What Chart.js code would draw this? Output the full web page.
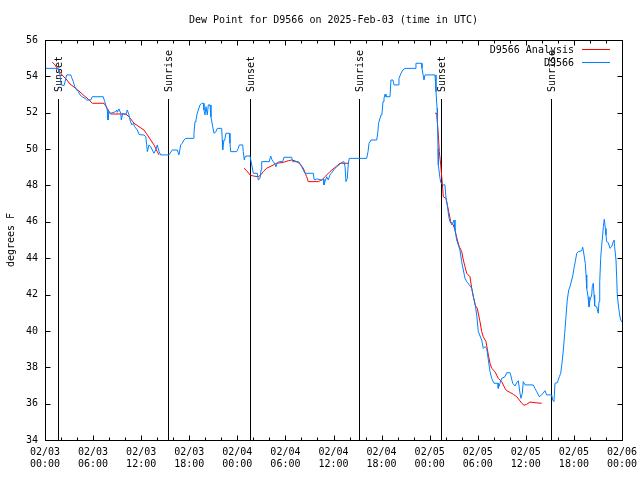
<!DOCTYPE html>
<html><head><meta charset="utf-8">
<script src="https://cdn.jsdelivr.net/npm/chart.js@4/dist/chart.umd.min.js"></script>
<style>html,body{margin:0;padding:0;background:#fff;} canvas{display:block;}</style>
</head><body>
<canvas id="c" width="640" height="480"></canvas>
<script>
const FONT = '"DejaVu Sans Mono", "Liberation Mono", monospace';

// hours since 2025-02-03 00:00 UTC
const blueTimes = [0.00,1.66,1.87,2.03,2.37,2.50,2.71,3.21,3.33,3.53,
3.71,3.96,4.16,4.37,4.65,4.99,5.20,5.70,5.90,6.74,
7.27,7.45,7.77,7.86,7.99,8.20,8.82,8.95,9.02,9.23,
9.45,9.52,9.70,10.07,10.27,10.48,10.61,10.82,11.02,11.19,
11.52,11.73,12.02,12.35,12.57,12.69,12.77,12.98,13.19,13.39,
13.60,13.81,14.01,14.23,14.44,15.47,15.88,16.51,16.72,16.93,
17.13,17.34,17.56,18.50,18.59,18.72,18.84,19.00,19.13,19.34,
19.55,19.75,19.84,19.96,20.09,20.25,20.38,20.59,20.71,20.93,
21.09,21.34,21.50,22.05,22.12,22.17,22.25,22.34,22.46,22.59,
23.00,23.08,23.17,23.92,24.12,24.25,24.67,24.74,24.87,24.96,
25.08,25.58,25.92,25.99,26.49,26.62,26.83,26.96,27.04,27.99,
28.16,28.29,28.49,28.70,28.83,28.99,29.24,29.66,29.82,30.78,
30.91,31.61,31.82,32.03,32.23,32.44,33.48,33.57,33.69,33.90,
34.53,34.73,34.81,34.94,35.15,35.35,35.56,35.78,36.10,36.40,
36.81,37.02,37.31,37.44,37.56,37.72,37.85,37.97,40.14,40.31,
40.43,40.68,41.39,41.55,41.62,41.93,42.05,42.18,42.30,42.43,
42.55,43.05,43.17,43.42,43.55,44.05,44.17,44.42,44.67,44.92,
46.17,46.29,47.00,47.04,47.29,47.42,48.67,48.79,48.92,48.98,
49.04,49.08,49.29,49.42,49.66,49.91,50.04,50.20,50.38,50.54,
50.79,51.04,51.16,51.37,51.57,51.78,51.99,52.20,52.41,52.62,
52.95,53.25,53.45,53.66,53.87,54.07,54.49,54.69,54.91,55.12,
55.32,55.53,55.74,56.03,56.53,56.56,56.78,56.99,57.40,57.61,
58.02,58.11,58.36,58.65,58.86,59.06,59.27,59.40,59.56,59.68,
59.90,60.93,61.14,61.36,61.68,61.98,62.39,62.60,63.23,63.35,
63.51,63.64,63.93,64.18,64.35,64.51,64.68,64.85,65.01,65.17,
65.35,65.51,65.72,65.85,66.01,66.17,66.35,66.55,66.97,67.10,
67.26,67.42,67.51,67.60,67.76,67.88,68.01,68.22,68.29,68.42,
68.51,68.59,68.84,69.04,69.13,69.22,69.34,69.47,69.59,69.67,
69.79,69.92,70.00,70.09,70.29,70.50,70.71,70.91,71.00,71.08,
71.25,71.34,71.41,71.59,71.71,71.84,72.00];
const blueValues = [54.44,54.44,54.08,53.53,53.49,53.71,54.08,54.08,53.93,53.71,
53.43,53.25,53.16,52.98,52.88,52.79,52.70,52.70,52.88,52.88,
52.88,52.61,52.15,51.60,52.06,51.97,52.06,52.15,52.02,52.21,
51.97,51.60,51.97,51.88,52.15,51.88,51.60,51.33,51.42,51.23,
51.05,50.81,50.78,50.78,50.68,50.23,49.86,50.23,50.13,49.95,
49.77,49.95,50.23,49.86,49.68,49.68,49.95,49.95,49.68,50.23,
50.32,50.50,50.59,50.59,50.87,51.51,51.60,51.97,52.15,52.43,
52.52,52.52,52.15,51.88,52.33,51.88,52.43,52.43,51.78,51.23,
50.87,50.96,51.14,51.14,50.50,49.95,50.23,50.50,50.59,50.87,
50.87,50.32,49.86,49.86,50.04,50.23,50.23,49.86,49.40,49.58,
49.62,49.62,48.85,48.67,48.67,48.30,48.39,48.85,49.31,49.31,
49.62,49.44,49.31,49.16,49.03,49.25,49.31,49.31,49.55,49.55,
49.31,49.31,49.22,49.03,48.85,48.67,48.67,48.34,48.30,48.36,
48.30,48.34,48.03,48.21,48.48,48.30,48.58,48.70,48.89,49.03,
49.18,49.27,49.31,49.03,48.21,48.39,49.22,49.49,49.49,49.86,
50.32,50.50,50.50,51.00,51.42,51.88,51.97,52.61,52.79,53.02,
52.88,52.88,53.80,53.80,53.53,53.53,53.89,54.17,54.35,54.44,
54.44,54.72,54.72,54.44,53.80,54.08,54.08,53.16,52.25,51.42,
50.04,49.13,48.39,48.12,48.03,48.03,47.29,46.93,46.28,46.01,
45.83,46.10,45.55,45.00,44.73,44.45,43.81,43.35,42.89,42.71,
42.53,42.34,41.88,41.52,40.88,39.96,39.50,39.04,39.13,39.04,
38.40,37.76,37.39,37.12,37.12,36.84,37.12,37.39,37.48,37.70,
37.70,37.58,37.12,36.97,37.15,37.26,36.57,36.29,36.57,37.21,
37.03,37.03,36.84,36.66,36.38,36.48,36.71,36.48,36.48,36.20,
36.11,37.12,37.15,37.48,37.67,38.22,38.95,39.87,40.78,41.70,
42.25,42.43,42.80,43.02,43.44,43.81,44.27,44.36,44.41,44.60,
44.18,43.72,43.08,42.34,41.88,41.33,41.70,41.98,42.43,42.62,
41.98,41.37,41.33,40.97,41.61,42.71,43.99,44.73,45.28,45.73,
46.14,45.64,45.28,44.91,44.85,44.54,44.63,44.91,45.00,44.63,
43.90,42.89,41.98,41.24,40.88,40.60,40.49];

const redTimes = [0.91,1.25,1.50,1.87,2.12,2.62,3.12,3.83,4.37,4.87,
5.37,5.90,7.36,7.77,7.99,8.20,10.07,10.48,11.11,11.73,
12.35,12.77,13.19,13.60,14.01,14.23,
20.00,
24.83,25.17,25.58,25.99,26.62,26.92,27.24,27.66,28.08,28.49,
28.91,29.74,30.36,30.78,31.20,31.73,32.23,32.65,32.86,34.10,
34.53,34.94,35.56,36.40,36.81,37.93,
43.00,
48.67,48.88,48.95,49.08,49.20,49.38,49.50,49.63,49.70,50.04,
50.20,50.38,50.62,50.95,51.16,51.45,51.70,52.00,52.20,52.41,
52.62,53.03,53.25,53.66,53.94,54.28,54.49,54.69,55.03,55.32,
55.53,55.74,56.15,56.56,56.99,57.40,57.61,58.02,58.44,58.86,
59.19,59.49,59.77,60.11,60.52,61.14,61.98];
const redValues = [54.78,54.63,54.46,54.24,54.08,53.86,53.58,53.34,53.14,52.94,
52.76,52.52,52.52,52.25,52.06,51.93,51.93,51.78,51.42,51.23,
51.05,50.78,50.50,50.23,49.86,49.68,
null,
48.95,48.81,48.58,48.52,48.48,48.58,48.76,48.95,49.03,49.13,
49.22,49.27,49.36,49.40,49.35,49.22,48.95,48.48,48.21,48.21,
48.30,48.48,48.76,49.07,49.22,49.22,
null,
51.97,51.97,51.51,50.78,49.86,49.13,48.48,47.84,47.38,47.29,
46.93,46.56,46.01,45.83,45.55,45.00,44.63,44.36,43.90,43.53,
43.17,42.98,42.34,41.43,41.24,40.51,39.96,39.68,39.41,38.68,
38.22,37.94,37.76,37.39,37.21,36.84,36.71,36.62,36.51,36.38,
36.20,36.02,35.91,35.96,36.09,36.05,36.02];

const eventTimes = [1.66, 15.39, 25.62, 39.22, 49.45, 63.18];
const eventLabels = ["Sunset","Sunrise","Sunset","Sunrise","Sunset","Sunrise"];
const eventTop = 52.75;

const xTickDates = ["02/03","02/03","02/03","02/03","02/04","02/04","02/04","02/04","02/05","02/05","02/05","02/05","02/06"];
const xTickTimes = ["00:00","06:00","12:00","18:00","00:00","06:00","12:00","18:00","00:00","06:00","12:00","18:00","00:00"];

const titleText = "Dew Point for D9566 on 2025-Feb-03 (time in UTC)";
const yLabelText = "degrees F";
const seriesNames = ["D9566 Analysis", "D9566"];
const seriesColors = ["#ff0000", "#0080ff"];

const toPts = (t, v) => t.map((x, i) => ({x: x, y: v[i]}));

const gp = {
  id: 'gp',
  beforeDatasetsDraw(chart) {
    const {ctx, chartArea: a, scales: {x, y}} = chart;
    ctx.save();
    ctx.strokeStyle = '#000'; ctx.lineWidth = 1;
    const top = Math.round(y.getPixelForValue(eventTop));
    eventTimes.forEach((t, i) => {
      const px = Math.round(x.getPixelForValue(t)) + 0.5;
      ctx.beginPath(); ctx.moveTo(px, top); ctx.lineTo(px, a.bottom); ctx.stroke();
      ctx.save();
      ctx.translate(px + 1, top - 7);
      ctx.rotate(-Math.PI / 2);
      ctx.font = '10px ' + FONT; ctx.fillStyle = '#000';
      ctx.textAlign = 'left'; ctx.textBaseline = 'middle';
      ctx.fillText(eventLabels[i], 0, 0);
      ctx.restore();
    });
    ctx.restore();
  },
  afterDatasetsDraw(chart) {
    const {ctx, chartArea: a, scales: {x, y}} = chart;
    ctx.save();
    ctx.strokeStyle = '#000'; ctx.lineWidth = 1;
    const L = Math.round(a.left) + 0.5, R = Math.round(a.right) + 0.5;
    const T = Math.round(a.top) + 0.5, B = Math.round(a.bottom) + 0.5;
    ctx.strokeRect(L, T, R - L, B - T);
    ctx.beginPath();
    for (let v = 34; v <= 56; v += 2) {
      const py = Math.round(y.getPixelForValue(v)) + 0.5;
      ctx.moveTo(L, py); ctx.lineTo(L + 5, py);
      ctx.moveTo(R, py); ctx.lineTo(R - 5, py);
    }
    for (let h = 0; h <= 72; h += 2) {
      const px = Math.round(x.getPixelForValue(h)) + 0.5;
      const len = (h % 6 === 0) ? 5 : 3;
      ctx.moveTo(px, B); ctx.lineTo(px, B - len);
      ctx.moveTo(px, T); ctx.lineTo(px, T + len);
    }
    ctx.stroke();
    // legend
    ctx.font = '10px ' + FONT; ctx.fillStyle = '#000';
    ctx.textAlign = 'right'; ctx.textBaseline = 'middle';
    const rows = [50, 63];
    seriesNames.forEach((n, i) => {
      ctx.fillText(n, 574, rows[i]);
      ctx.strokeStyle = seriesColors[i];
      ctx.beginPath(); ctx.moveTo(582, rows[i] - 0.5); ctx.lineTo(610, rows[i] - 0.5); ctx.stroke();
    });
    // title
    ctx.fillStyle = '#000'; ctx.textAlign = 'center';
    ctx.fillText(titleText, (a.left + a.right) / 2, 20);
    // y label
    ctx.save();
    ctx.translate(11, (a.top + a.bottom) / 2);
    ctx.rotate(-Math.PI / 2);
    ctx.fillText(yLabelText, 0, 0);
    ctx.restore();
    ctx.restore();
  }
};

new Chart(document.getElementById('c'), {
  type: 'line',
  data: {
    datasets: [
      { label: seriesNames[1], data: toPts(blueTimes, blueValues), borderColor: seriesColors[1], borderWidth: 1, pointRadius: 0, tension: 0, fill: false },
      { label: seriesNames[0], data: toPts(redTimes, redValues), borderColor: seriesColors[0], borderWidth: 1, pointRadius: 0, tension: 0, fill: false, spanGaps: false }
    ]
  },
  options: {
    responsive: false, animation: false, devicePixelRatio: 1,
    layout: { padding: { top: 40, right: 18, left: 0, bottom: 0 } },
    plugins: { legend: { display: false }, tooltip: { enabled: false }, title: { display: false } },
    scales: {
      x: {
        type: 'linear', min: 0, max: 72,
        grid: { display: false, drawTicks: false }, border: { display: false },
        ticks: {
          stepSize: 6, autoSkip: false, maxRotation: 0, minRotation: 0, padding: 6, color: '#000',
          font: { family: FONT, size: 10 },
          callback: (v) => { const i = Math.round(v / 6); return [xTickDates[i], xTickTimes[i]]; }
        },
        afterFit(s) { s.height = 40; s.paddingLeft = 0; s.paddingRight = 0; }
      },
      y: {
        type: 'linear', min: 34, max: 56,
        grid: { display: false, drawTicks: false }, border: { display: false },
        ticks: { stepSize: 2, padding: 7, color: '#000', font: { family: FONT, size: 10 } },
        afterFit(s) { s.width = 45; s.paddingTop = 0; s.paddingBottom = 0; }
      }
    }
  },
  plugins: [gp]
});
</script>
</body></html>
